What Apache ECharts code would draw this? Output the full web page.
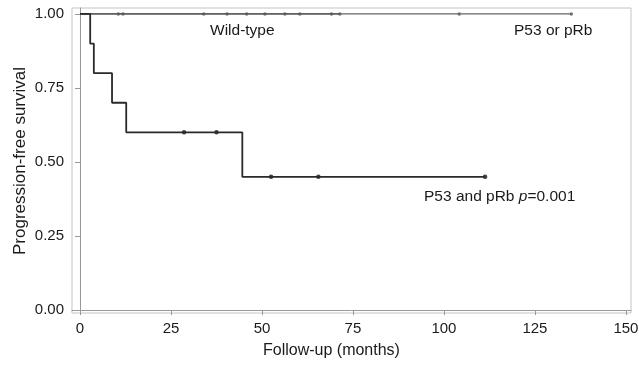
<!DOCTYPE html>
<html>
<head>
<meta charset="utf-8">
<script src="https://cdn.jsdelivr.net/npm/echarts@6/dist/echarts.min.js"></script>
<style>html,body{margin:0;padding:0;background:#fff}#c{width:639px;height:368px}</style>
</head>
<body>
<div id="c"></div>
<script>
// Kaplan-Meier step points [time (months), survival]
const mutantSteps = [[0, 1.0], [2.8, 0.9], [3.8, 0.8], [8.8, 0.7], [12.7, 0.6], [44.6, 0.45], [111.3, 0.45]];
const mutantCensored = [28.6, 37.5, 52.5, 65.5, 111.3];
const wildSteps = [[0, 1.0], [71.4, 1.0]];
const wildCensored = [10.5, 11.8, 34.0, 40.4, 45.8, 50.8, 56.3, 60.4, 69.1, 71.4];
const oneSteps = [[0, 1.0], [135, 1.0]];
const oneCensored = [104.2, 135];
const xTicks = [0, 25, 50, 75, 100, 125, 150];
const yTicks = [0, 0.25, 0.5, 0.75, 1.0];

function survAt(steps, t) {
  let s = steps[0][1];
  for (const p of steps) { if (p[0] <= t) s = p[1]; }
  return s;
}
const censorPts = (steps, times) => times.map(t => [t, survAt(steps, t)]);

const lineColor = '#2a2a2a';
const txt = '#1a1a1a';
const chart = echarts.init(document.getElementById('c'));
const font = 'Liberation Sans, Arial, sans-serif';
chart.setOption({
  animation: false,
  grid: {left: 72, right: 8, top: 8, bottom: 55, show: true, borderColor: '#c4c4c4', borderWidth: 1, containLabel: false, outerBoundsMode: 'none'},
  xAxis: {
    type: 'value', min: -2.2, max: 151.4,
    axisLine: {show: true, lineStyle: {color: '#999'}},
    axisTick: {show: true, customValues: xTicks, length: 5, lineStyle: {color: '#999'}},
    axisLabel: {customValues: xTicks, fontFamily: font, fontSize: 15, color: txt, margin: 8},
    splitLine: {show: false}
  },
  yAxis: {
    type: 'value', min: -0.01, max: 1.02,
    axisLine: {show: true, lineStyle: {color: '#999'}},
    axisTick: {show: true, customValues: yTicks, length: 5, lineStyle: {color: '#999'}},
    axisLabel: {customValues: yTicks, formatter: v => v.toFixed(2), fontFamily: font, fontSize: 15, color: txt, margin: 8},
    splitLine: {show: false}
  },
  series: [
    {type: 'line', name: 'P53 or pRb', data: oneSteps, step: 'end', symbol: 'none', lineStyle: {color: '#666', width: 1.4}},
    {type: 'line', name: 'Wild-type', data: wildSteps, step: 'end', symbol: 'none', lineStyle: {color: '#555', width: 1.4}},
    {type: 'line', name: 'P53 and pRb', data: mutantSteps, step: 'end', symbol: 'none', lineStyle: {color: lineColor, width: 1.8}},
    {type: 'scatter', data: censorPts(oneSteps, oneCensored), symbol: 'circle', symbolSize: 3.5, itemStyle: {color: '#555'}},
    {type: 'scatter', data: censorPts(wildSteps, wildCensored), symbol: 'circle', symbolSize: 3.5, itemStyle: {color: '#555'}},
    {type: 'scatter', data: censorPts(mutantSteps, mutantCensored), symbol: 'circle', symbolSize: 4.5, itemStyle: {color: '#111'}}
  ],
  graphic: [
    {type: 'text', x: 20, y: 161, rotation: Math.PI / 2, style: {text: 'Progression-free survival', font: '17px ' + font, fill: txt, align: 'center', verticalAlign: 'middle'}},
    {type: 'text', left: 263, top: 343, style: {text: 'Follow-up (months)', font: '16px ' + font, fill: txt}},
    {type: 'text', left: 210, top: 23, style: {text: 'Wild-type', font: '15.5px ' + font, fill: txt}},
    {type: 'text', left: 514, top: 23, style: {text: 'P53 or pRb', font: '15.5px ' + font, fill: txt}},
    {type: 'text', left: 424, top: 189, style: {text: '{a|P53 and pRb }{b|p}{a|=0.001}', rich: {a: {font: '15.5px ' + font, fill: txt}, b: {font: 'italic 15.5px ' + font, fill: txt}}}}
  ]
});
</script>
</body>
</html>
